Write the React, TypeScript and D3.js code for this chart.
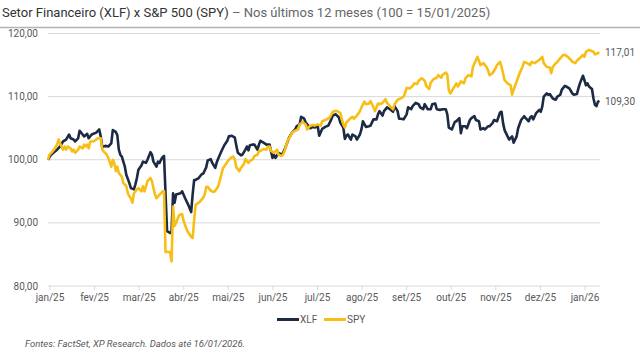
import React from "react";
import * as d3 from "d3";

// Days since 15/01/2025 and index level (100 = 15/01/2025)
const XLF_DAYS = [0,2,4,6,8,10,12,14,15,17,18,20,21,23,24,26,27,29,32,34,35,36,38,40,42,43,45,46,47,48,49,51,52,54,55,57,58,59,60,62,63,65,66,68,69,70,72,73,74,75,76,77,78,79,81,82,83,84,85,88,89,91,93,95,96,97,98,100,102,103,104,105,106,108,109,111,112,113,115,117,119,120,122,124,125,126,128,129,131,132,133,134,136,137,139,140,141,143,145,147,149,150,151,153,155,156,157,160,162,164,165,167,168,170,171,172,174,176,177,179,180,182,184,186,188,189,191,193,194,196,197,198,199,201,202,204,205,207,208,209,211,213,214,216,218,219,220,222,223,225,227,229,230,232,233,234,236,238,239,241,242,244,246,247,249,250,252,254,255,257,258,260,262,264,265,266,268,270,271,273,274,275,277,278,280,281,283,284,286,287,289,290,292,293,295,296,298,300,301,302,303,305,306,308,309,311,312,314,316,317,319,320,321,322,324,326,327,328,329,331,332,333,335,337,338,340,341,343,344,346,348,349,351,352,353,355,356,357,358,359,361,362,363,364,365,366];
const XLF_VALUES = [100.0,100.8,101.2,101.6,102.1,102.9,103.2,104.0,103.4,103.2,102.9,103.4,104.6,104.0,103.7,104.1,103.4,104.0,104.3,104.8,103.7,102.0,102.2,102.1,102.6,104.7,104.4,103.9,101.6,100.8,100.5,98.9,97.6,96.3,95.5,95.3,96.1,97.1,98.4,99.1,99.7,99.5,100.0,101.2,100.8,99.7,98.9,99.7,99.5,100.0,100.4,100.6,94.7,88.7,88.4,88.5,94.7,93.2,94.5,94.7,95.0,93.9,92.9,91.7,94.5,96.8,96.8,97.1,97.7,97.8,98.3,98.8,99.9,100.1,99.5,98.7,99.6,100.2,101.3,102.3,103.0,103.7,103.8,103.5,102.2,101.1,100.7,100.8,101.6,102.1,101.5,102.3,102.4,102.4,101.6,102.4,103.0,102.7,102.4,102.4,100.3,100.8,100.3,101.1,100.8,101.1,101.6,103.5,104.3,104.8,105.3,105.6,106.8,106.5,105.9,105.6,105.0,105.2,105.1,105.3,103.8,104.9,105.2,105.4,106.4,107.0,107.2,106.7,105.9,105.1,103.3,103.8,104.0,103.2,104.0,103.7,103.2,104.0,104.8,106.1,105.2,105.3,105.4,106.4,106.4,107.2,107.7,107.0,107.7,108.3,108.0,107.6,108.5,107.7,106.5,106.5,106.4,107.2,108.3,108.0,108.5,109.0,108.8,108.3,108.0,108.8,108.0,108.0,108.8,108.9,108.0,107.9,108.0,108.0,107.2,105.1,104.8,106.0,106.1,106.6,104.2,105.3,105.3,105.0,106.3,106.6,106.9,106.3,106.1,104.8,105.0,104.8,105.3,105.3,105.8,106.3,106.1,107.5,107.6,105.8,104.7,103.7,103.2,103.7,102.7,103.7,105.0,106.3,106.9,106.6,106.1,106.7,106.9,106.4,107.4,107.9,107.6,108.4,110.0,110.5,110.3,110.4,109.7,109.5,110.0,110.3,111.1,111.7,111.6,111.3,110.5,110.3,110.4,111.3,112.1,113.3,112.6,111.8,112.1,111.6,111.2,109.7,108.7,108.5,109.2,109.3];

const SPY_DAYS = [0,1,3,4,6,7,8,10,11,12,13,15,16,17,18,20,21,23,24,25,26,27,28,30,32,33,35,36,37,39,40,42,43,44,45,46,47,49,50,52,53,54,55,56,57,59,60,62,63,64,65,66,68,69,70,71,72,73,75,76,77,78,80,81,82,83,84,85,87,89,90,92,93,95,96,97,98,100,101,103,104,105,106,108,110,111,113,115,116,118,120,122,123,124,125,127,128,130,131,133,134,136,137,139,140,141,143,145,146,147,148,150,152,153,155,156,157,159,161,162,164,166,167,169,171,172,174,176,177,179,181,182,184,185,187,189,190,192,194,195,196,197,198,200,202,203,205,207,208,210,211,213,214,216,217,219,220,222,224,225,227,229,230,232,234,236,237,238,240,242,243,245,246,248,250,251,253,254,256,258,259,261,262,264,265,266,267,269,271,272,274,276,277,279,281,282,284,285,287,289,291,292,293,295,297,298,300,301,302,303,305,307,308,309,311,313,315,316,318,320,321,323,324,326,328,329,331,333,334,335,337,338,340,342,343,345,347,348,350,351,353,355,356,357,359,360,362,363,364,366];
const SPY_VALUES = [100.0,100.8,101.3,101.6,102.4,103.2,102.6,101.6,102.1,101.6,102.1,101.8,101.3,101.6,101.1,101.6,102.1,101.8,102.4,102.1,102.4,101.8,102.9,102.9,103.2,103.4,103.4,101.6,101.3,100.8,100.3,98.9,100.0,99.5,98.2,98.9,97.9,97.3,96.3,95.8,94.7,94.2,93.9,93.2,94.7,95.3,95.5,95.0,95.8,95.0,95.8,96.6,97.1,96.6,95.5,94.5,93.9,94.2,94.7,95.0,95.0,85.4,85.4,85.3,83.9,92.6,89.5,90.0,91.2,91.4,90.3,89.0,88.5,87.8,87.6,90.5,92.9,93.2,93.4,94.0,94.5,95.7,95.7,95.1,94.9,95.1,95.8,97.6,98.6,99.3,100.0,100.4,100.5,100.0,98.8,98.2,98.7,99.3,100.1,99.5,99.8,100.1,100.6,100.8,101.4,101.4,101.7,101.6,102.1,102.1,101.4,101.1,101.6,100.8,100.6,100.8,101.4,103.0,103.8,104.3,104.6,104.8,105.6,106.0,105.6,104.8,105.4,105.5,105.4,105.6,105.4,106.1,106.3,106.4,106.7,107.6,107.7,107.7,107.4,106.4,105.6,105.1,105.9,106.4,106.8,106.5,107.0,107.7,108.3,109.2,108.8,108.9,109.3,108.3,107.7,108.9,108.8,109.0,109.6,109.0,108.5,108.0,108.8,109.5,109.7,110.0,110.6,111.4,111.3,111.7,112.1,112.0,112.5,112.9,112.5,111.7,111.2,112.2,112.8,113.0,113.4,113.0,113.5,113.8,113.5,111.0,110.5,111.3,112.1,111.6,112.4,112.1,112.9,113.4,113.2,114.7,115.8,116.3,115.0,115.3,114.7,114.2,113.4,113.7,114.5,115.0,115.5,114.7,113.7,112.6,112.1,111.8,110.3,111.1,112.4,113.7,114.8,115.5,115.3,115.0,115.5,115.3,115.5,115.8,116.3,115.3,114.7,114.6,113.7,114.7,115.3,115.5,116.1,116.6,116.6,116.3,115.8,115.5,115.3,115.7,116.1,116.6,116.3,117.1,117.4,117.3,117.1,116.7,116.8,117.01];

const MONTH_LABELS = ["jan/25","fev/25","mar/25","abr/25","mai/25","jun/25","jul/25","ago/25","set/25","out/25","nov/25","dez/25","jan/26"];
const Y_TICKS = [80, 90, 100, 110, 120];
const SERIES_NAMES = ["XLF", "SPY"];
const COLORS = ["#1c2a44", "#f7bf16"];

const W = 640, H = 356;
const FONT = "Roboto, 'Noto Sans', sans-serif";
const fmt = (v: number) => v.toFixed(2).replace(".", ",");

export default function App() {
  const x = d3.scaleLinear().domain([0, 366]).range([48, 599.5]);
  const xLab = d3.scalePoint<string>().domain(MONTH_LABELS).range([50, 585]);
  const y = d3.scaleLinear().domain([80, 120]).range([286, 33.5]);

  const series = [
    { name: SERIES_NAMES[0], days: XLF_DAYS, vals: XLF_VALUES, color: COLORS[0] },
    { name: SERIES_NAMES[1], days: SPY_DAYS, vals: SPY_VALUES, color: COLORS[1] },
  ];
  const line = d3.line<[number, number]>().x(d => x(d[0])).y(d => y(d[1]));

  return (
    <svg width={W} height={H} style={{ position: "absolute", left: 0, top: 0, background: "#fff" }} fontFamily={FONT}>
      <text x={2} y={17} fontSize={13} fill="#333">
        <tspan>Setor Financeiro (XLF) x S&amp;P 500 (SPY)</tspan>
        <tspan fill="#666"> – Nos últimos 12 meses (100 = 15/01/2025)</tspan>
      </text>
      <line x1={0} x2={W} y1={27.5} y2={27.5} stroke="#b3b3b3" strokeWidth={1.5} />

      {Y_TICKS.map(t => (
        <g key={t}>
          <line x1={48} x2={600} y1={y(t)} y2={y(t)} stroke="#d9d9d9" strokeWidth={1} />
          <text x={38} y={y(t)} dy="0.35em" textAnchor="end" fontSize={10} fill="#595959">{fmt(t)}</text>
        </g>
      ))}
      {MONTH_LABELS.map(m => (
        <g key={m}>
          <line x1={xLab(m)} x2={xLab(m)} y1={286} y2={290} stroke="#d9d9d9" />
          <text x={xLab(m)} y={301} textAnchor="middle" fontSize={10} fill="#595959">{m}</text>
        </g>
      ))}

      {series.map(s => (
        <path key={s.name}
          d={line(s.days.map((d, i) => [d, s.vals[i]] as [number, number])) || ""}
          fill="none" stroke={s.color} strokeWidth={2.6} strokeLinejoin="round" />
      ))}
      {series.map(s => {
        const last = s.vals[s.vals.length - 1];
        return (
          <text key={s.name} x={605} y={y(last)} dy="0.35em" fontSize={10} fill="#595959">{fmt(last)}</text>
        );
      })}

      {series.map((s, i) => {
        const lx = 277 + i * 47;
        return (
          <g key={s.name}>
            <line x1={lx} x2={lx + 22} y1={319.5} y2={319.5} stroke={s.color} strokeWidth={3} />
            <text x={lx + 23} y={319.5} dy="0.35em" fontSize={10} fill="#595959">{s.name}</text>
          </g>
        );
      })}

      <text x={25} y={347} fontSize={9.5} fontStyle="italic" fill="#595959">
        Fontes: FactSet, XP Research. Dados até 16/01/2026.
      </text>
    </svg>
  );
}
